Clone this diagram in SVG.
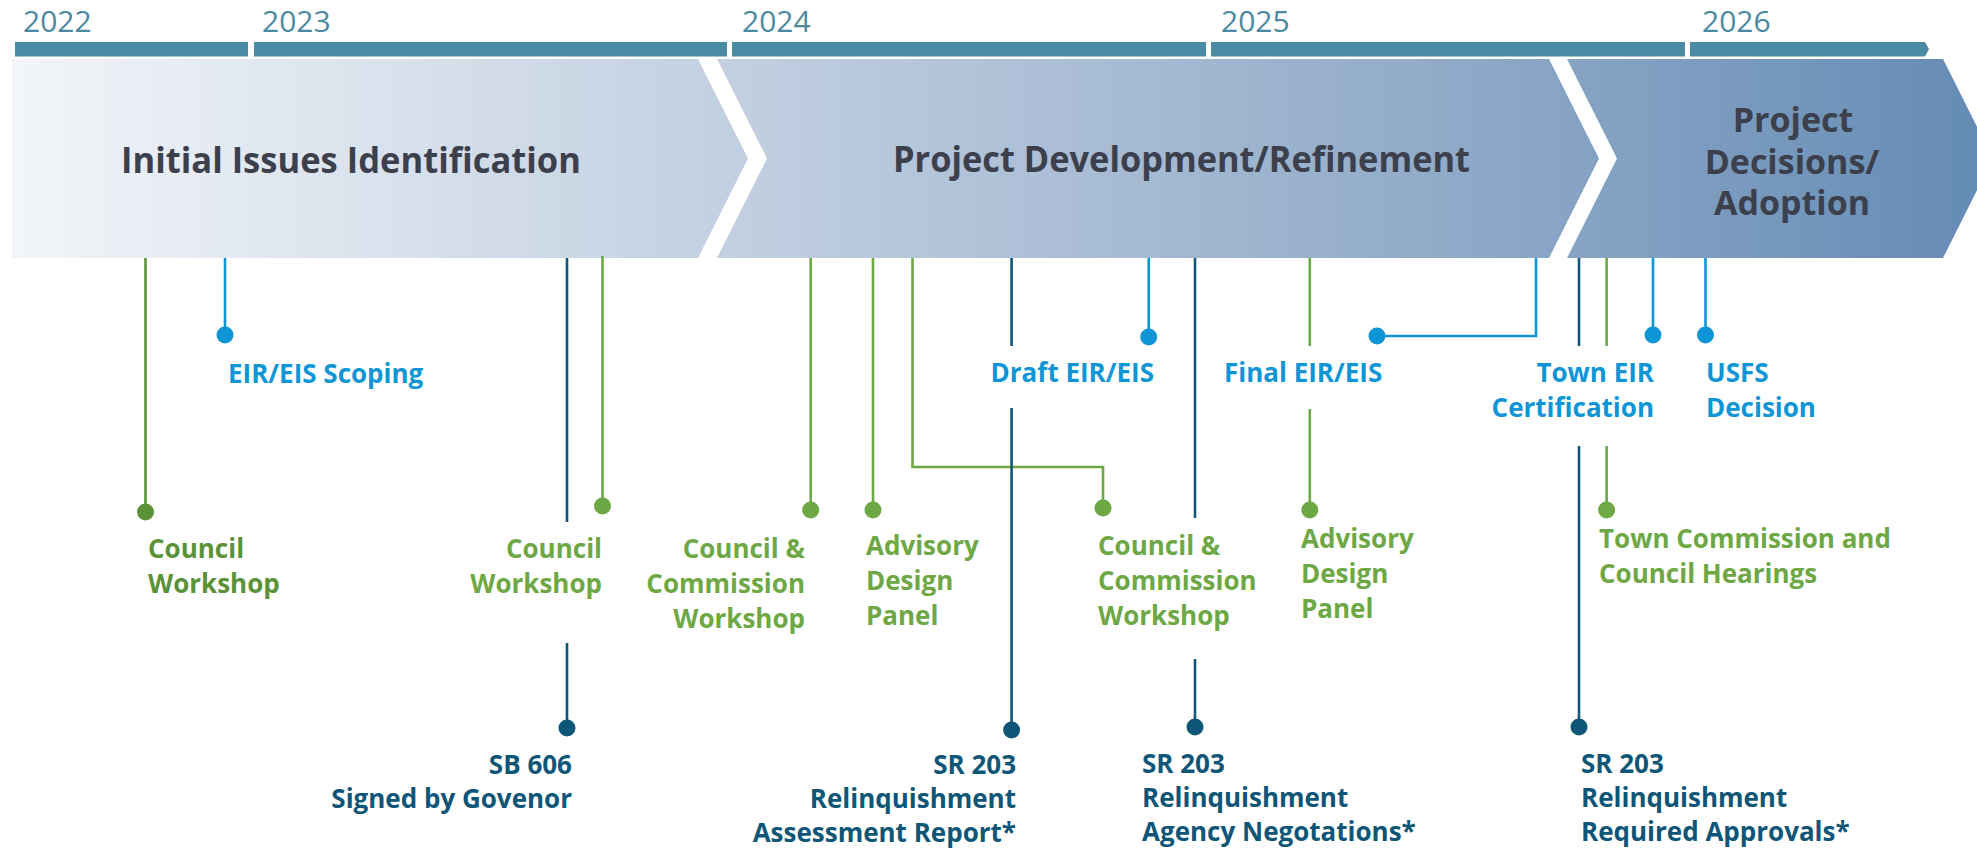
<svg xmlns="http://www.w3.org/2000/svg" width="1977" height="853" viewBox="0 0 1977 853">
<defs>
<linearGradient id="phaseGrad" gradientUnits="userSpaceOnUse" x1="12" y1="0" x2="1977" y2="0">
<stop offset="0" stop-color="#f2f5f9"/>
<stop offset="0.35" stop-color="#c4d1e2"/>
<stop offset="0.78" stop-color="#89a5c5"/>
<stop offset="1" stop-color="#658cb5"/>
</linearGradient>
<style>
.year{font-family:"Open Sans","Liberation Sans",sans-serif;font-weight:400;font-size:30px;fill:#4a89a0}
.bar{fill:#4b8aa3}
.title{font-family:"Open Sans","Liberation Sans",sans-serif;font-weight:700;font-size:35px;fill:#3c404d}
.t3{font-size:34px}
.lbl{font-family:"Open Sans","Liberation Sans",sans-serif;font-weight:700;font-size:26px}
.end{text-anchor:end}
.g{fill:#6ea845}.dg{fill:#5b9237}.b{fill:#0d95d6}.n{fill:#0e5677}
.ln{fill:none;stroke-width:2.6}
.lg{stroke:#6ea845}.ldg{stroke:#5b9237}.lb{stroke:#0d95d6}.lnv{stroke:#0e5677}
</style>
</defs>
<rect width="1977" height="853" fill="#ffffff"/>

<g id="years">
<text class="year" x="23" y="32">2022</text>
<text class="year" x="262" y="32">2023</text>
<text class="year" x="742" y="32">2024</text>
<text class="year" x="1221" y="32">2025</text>
<text class="year" x="1702" y="32">2026</text>
<rect class="bar" x="15" y="42" width="233" height="14.5"/>
<rect class="bar" x="254" y="42" width="473" height="14.5"/>
<rect class="bar" x="732" y="42" width="474" height="14.5"/>
<rect class="bar" x="1211" y="42" width="474" height="14.5"/>
<polygon class="bar" points="1690,42 1925,42 1929,49.2 1925,56.5 1690,56.5"/>
</g>

<g id="phase-initial">
<polygon fill="url(#phaseGrad)" points="12,59 698,59 748,158.5 698,258 12,258"/>
<text class="title" x="121" y="173" textLength="460" lengthAdjust="spacingAndGlyphs">Initial Issues Identification</text>
</g>
<g id="phase-development">
<polygon fill="url(#phaseGrad)" points="717,59 1549,59 1599,158.5 1549,258 717,258 767,158.5"/>
<text class="title" x="893" y="172" textLength="577" lengthAdjust="spacingAndGlyphs">Project Development/Refinement</text>
</g>
<g id="phase-decisions">
<polygon fill="url(#phaseGrad)" points="1567,59 1943,59 1993,158.5 1943,258 1567,258 1617,158.5"/>
<text class="title t3" x="1793" y="132" text-anchor="middle">Project</text>
<text class="title t3" x="1792" y="173.5" text-anchor="middle">Decisions/</text>
<text class="title t3" x="1792" y="215" text-anchor="middle">Adoption</text>
</g>

<g id="connectors">
<path class="ln ldg" d="M145.5 258V512"/>
<path class="ln lb" d="M225 258V335"/>
<path class="ln lnv" d="M567 258V522M567 643V728"/>
<path class="ln lg" d="M602.5 256V506"/>
<path class="ln lg" d="M810.7 258V510"/>
<path class="ln lg" d="M873 258V510"/>
<path class="ln lg" d="M912.5 258V467H1103V508"/>
<path class="ln lnv" d="M1011.6 258V346M1011.6 408V730"/>
<path class="ln lb" d="M1148.7 258V337"/>
<path class="ln lnv" d="M1195 258V518M1195 659V727"/>
<path class="ln lg" d="M1309.8 258V346M1309.8 409V510"/>
<path class="ln lb" d="M1536 258V336H1377"/>
<path class="ln lnv" d="M1579 258V346M1579 446V727"/>
<path class="ln lg" d="M1606.6 258V346M1606.6 446V510"/>
<path class="ln lb" d="M1653 258V335"/>
<path class="ln lb" d="M1705.5 258V335"/>
</g>

<g id="ev-council-workshop-1">
<circle class="dg" cx="145.5" cy="512" r="8.5"/>
<text class="lbl dg" x="148" y="558">Council</text>
<text class="lbl dg" x="148" y="593">Workshop</text>
</g>
<g id="ev-eir-scoping">
<circle class="b" cx="225" cy="335" r="8.5"/>
<text class="lbl b" x="228" y="383">EIR/EIS Scoping</text>
</g>
<g id="ev-sb606">
<circle class="n" cx="567" cy="728" r="8.5"/>
<text class="lbl n end" x="572" y="774">SB 606</text>
<text class="lbl n end" x="572" y="808">Signed by Govenor</text>
</g>
<g id="ev-council-workshop-2">
<circle class="g" cx="602.5" cy="506" r="8.5"/>
<text class="lbl g end" x="602" y="558">Council</text>
<text class="lbl g end" x="602" y="593">Workshop</text>
</g>
<g id="ev-ccw-1">
<circle class="g" cx="810.7" cy="510" r="8.5"/>
<text class="lbl g end" x="805" y="558">Council &amp;</text>
<text class="lbl g end" x="805" y="593">Commission</text>
<text class="lbl g end" x="805" y="628">Workshop</text>
</g>
<g id="ev-adp-1">
<circle class="g" cx="873" cy="510" r="8.5"/>
<text class="lbl g" x="866" y="555">Advisory</text>
<text class="lbl g" x="866" y="590">Design</text>
<text class="lbl g" x="866" y="625">Panel</text>
</g>
<g id="ev-ccw-2">
<circle class="g" cx="1103" cy="508" r="8.5"/>
<text class="lbl g" x="1098" y="555">Council &amp;</text>
<text class="lbl g" x="1098" y="590">Commission</text>
<text class="lbl g" x="1098" y="625">Workshop</text>
</g>
<g id="ev-sr203-assessment">
<circle class="n" cx="1011.6" cy="730" r="8.5"/>
<text class="lbl n end" x="1016" y="774">SR 203</text>
<text class="lbl n end" x="1016" y="808">Relinquishment</text>
<text class="lbl n end" x="1016" y="842">Assessment Report*</text>
</g>
<g id="ev-draft-eir">
<circle class="b" cx="1148.7" cy="337" r="8.5"/>
<text class="lbl b end" x="1154" y="382">Draft EIR/EIS</text>
</g>
<g id="ev-sr203-negotiations">
<circle class="n" cx="1195" cy="727" r="8.5"/>
<text class="lbl n" x="1142" y="773">SR 203</text>
<text class="lbl n" x="1142" y="807">Relinquishment</text>
<text class="lbl n" x="1142" y="841">Agency Negotations*</text>
</g>
<g id="ev-adp-2">
<circle class="g" cx="1309.8" cy="510" r="8.5"/>
<text class="lbl g" x="1301" y="548">Advisory</text>
<text class="lbl g" x="1301" y="583">Design</text>
<text class="lbl g" x="1301" y="618">Panel</text>
</g>
<g id="ev-final-eir">
<circle class="b" cx="1377" cy="336" r="8.5"/>
<text class="lbl b" x="1224" y="382">Final EIR/EIS</text>
</g>
<g id="ev-sr203-approvals">
<circle class="n" cx="1579" cy="727" r="8.5"/>
<text class="lbl n" x="1581" y="773">SR 203</text>
<text class="lbl n" x="1581" y="807">Relinquishment</text>
<text class="lbl n" x="1581" y="841">Required Approvals*</text>
</g>
<g id="ev-hearings">
<circle class="g" cx="1606.6" cy="510" r="8.5"/>
<text class="lbl g" x="1599" y="548">Town Commission and</text>
<text class="lbl g" x="1599" y="583">Council Hearings</text>
</g>
<g id="ev-town-eir">
<circle class="b" cx="1653" cy="335" r="8.5"/>
<text class="lbl b end" x="1654" y="382">Town EIR</text>
<text class="lbl b end" x="1654" y="417">Certification</text>
</g>
<g id="ev-usfs">
<circle class="b" cx="1705.5" cy="335" r="8.5"/>
<text class="lbl b" x="1706" y="382">USFS</text>
<text class="lbl b" x="1706" y="417">Decision</text>
</g>
</svg>
